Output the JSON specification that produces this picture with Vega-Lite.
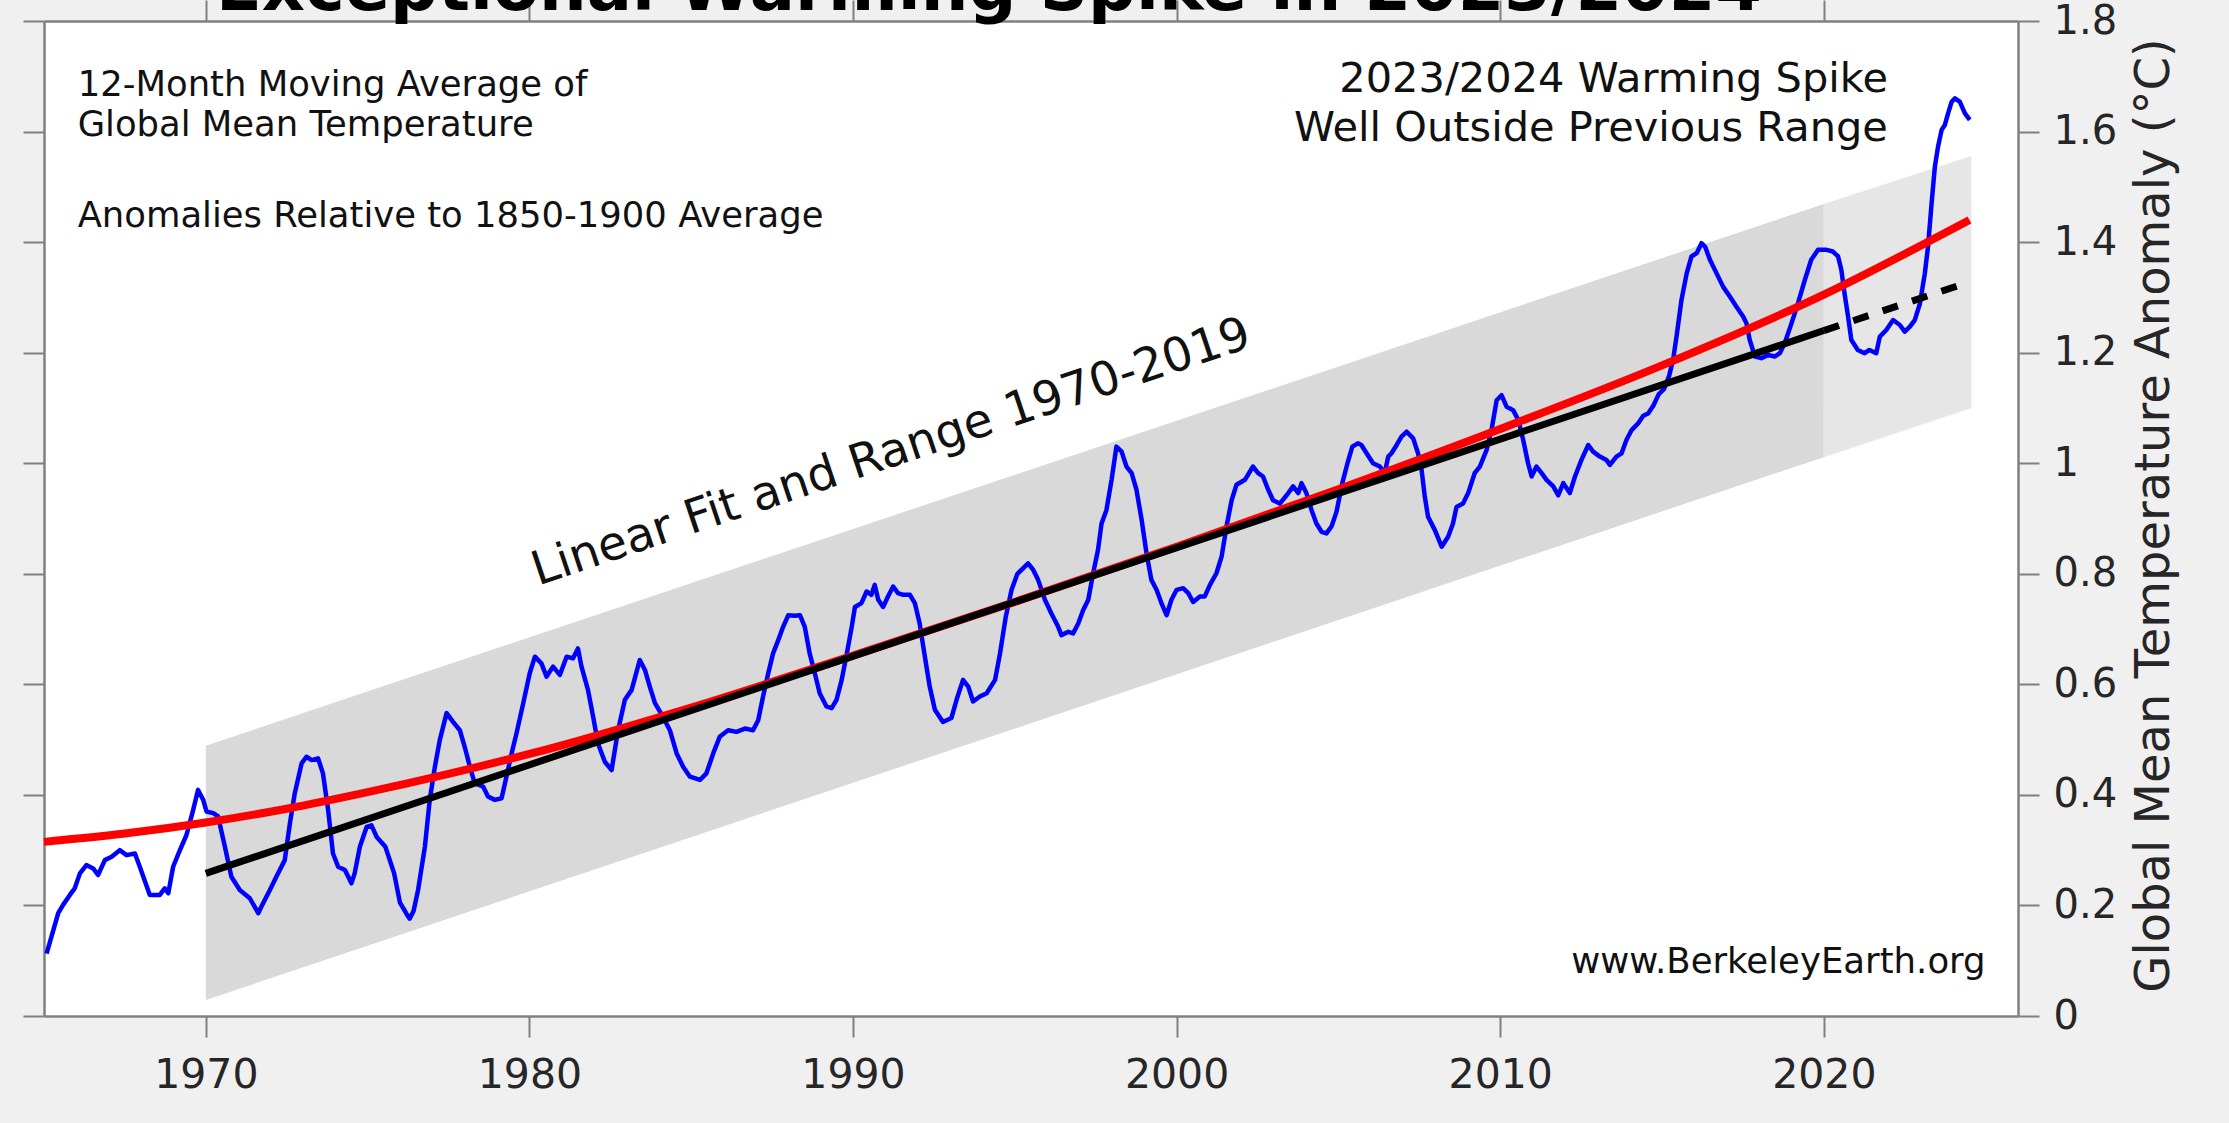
{
  "$schema": "https://vega.github.io/schema/vega-lite/v6.json",
  "autosize": {"type": "none"},
  "padding": {"left": 44, "top": 21, "right": 211, "bottom": 107},
  "width": 1974,
  "height": 995,
  "background": "#f0f0f0",
  "config": {
    "view": {"fill": "#ffffff", "stroke": null},
    "font": "DejaVu Sans",
    "axis": {
      "grid": false,
      "domainColor": "#808080",
      "domainWidth": 2.5,
      "tickColor": "#808080",
      "tickWidth": 2,
      "labelColor": "#262626",
      "titleColor": "#262626",
      "labelFont": "DejaVu Sans",
      "titleFont": "DejaVu Sans"
    },
    "text": {"font": "DejaVu Sans", "color": "#111111"}
  },
  "datasets": {
    "band": [
      {"yr": 1970, "lo": 0.029, "hi": 0.489, "span": "1970-2019"},
      {"yr": 2020, "lo": 1.011, "hi": 1.469, "span": "1970-2019"},
      {"yr": 2020, "lo": 1.011, "hi": 1.469, "span": "2020-2024"},
      {"yr": 2024.56, "lo": 1.1, "hi": 1.556, "span": "2020-2024"}
    ],
    "gmt": [
      {"yr": 1965.08, "v": 0.113}, {"yr": 1965.44, "v": 0.186}, {"yr": 1965.59, "v": 0.201}, {"yr": 1965.8, "v": 0.219},
      {"yr": 1965.95, "v": 0.231}, {"yr": 1966.11, "v": 0.258}, {"yr": 1966.31, "v": 0.273}, {"yr": 1966.52, "v": 0.267},
      {"yr": 1966.67, "v": 0.255}, {"yr": 1966.88, "v": 0.282}, {"yr": 1967.09, "v": 0.288}, {"yr": 1967.34, "v": 0.3},
      {"yr": 1967.55, "v": 0.291}, {"yr": 1967.81, "v": 0.294}, {"yr": 1967.96, "v": 0.27}, {"yr": 1968.27, "v": 0.219},
      {"yr": 1968.58, "v": 0.219}, {"yr": 1968.73, "v": 0.231}, {"yr": 1968.84, "v": 0.222}, {"yr": 1968.99, "v": 0.27},
      {"yr": 1969.2, "v": 0.3}, {"yr": 1969.4, "v": 0.327}, {"yr": 1969.61, "v": 0.373}, {"yr": 1969.76, "v": 0.409},
      {"yr": 1969.92, "v": 0.391}, {"yr": 1970.02, "v": 0.37}, {"yr": 1970.23, "v": 0.367}, {"yr": 1970.38, "v": 0.361},
      {"yr": 1970.59, "v": 0.306}, {"yr": 1970.79, "v": 0.252}, {"yr": 1971.05, "v": 0.228}, {"yr": 1971.36, "v": 0.213},
      {"yr": 1971.62, "v": 0.186}, {"yr": 1971.72, "v": 0.198}, {"yr": 1971.98, "v": 0.228}, {"yr": 1972.18, "v": 0.252},
      {"yr": 1972.44, "v": 0.282}, {"yr": 1972.6, "v": 0.349}, {"yr": 1972.75, "v": 0.403}, {"yr": 1972.96, "v": 0.457},
      {"yr": 1973.11, "v": 0.469}, {"yr": 1973.27, "v": 0.463}, {"yr": 1973.47, "v": 0.466}, {"yr": 1973.62, "v": 0.439},
      {"yr": 1973.78, "v": 0.373}, {"yr": 1973.93, "v": 0.294}, {"yr": 1974.09, "v": 0.27}, {"yr": 1974.3, "v": 0.264},
      {"yr": 1974.5, "v": 0.24}, {"yr": 1974.6, "v": 0.258}, {"yr": 1974.76, "v": 0.306}, {"yr": 1974.97, "v": 0.342},
      {"yr": 1975.12, "v": 0.345}, {"yr": 1975.28, "v": 0.324}, {"yr": 1975.55, "v": 0.306}, {"yr": 1975.82, "v": 0.258},
      {"yr": 1976.0, "v": 0.205}, {"yr": 1976.2, "v": 0.185}, {"yr": 1976.3, "v": 0.176}, {"yr": 1976.42, "v": 0.19},
      {"yr": 1976.56, "v": 0.228}, {"yr": 1976.77, "v": 0.306}, {"yr": 1976.92, "v": 0.391}, {"yr": 1977.08, "v": 0.451},
      {"yr": 1977.23, "v": 0.499}, {"yr": 1977.44, "v": 0.548}, {"yr": 1977.64, "v": 0.532}, {"yr": 1977.85, "v": 0.517},
      {"yr": 1978.0, "v": 0.487}, {"yr": 1978.16, "v": 0.451}, {"yr": 1978.31, "v": 0.421}, {"yr": 1978.57, "v": 0.415},
      {"yr": 1978.72, "v": 0.397}, {"yr": 1978.93, "v": 0.391}, {"yr": 1979.14, "v": 0.394}, {"yr": 1979.29, "v": 0.433},
      {"yr": 1979.45, "v": 0.475}, {"yr": 1979.6, "v": 0.511}, {"yr": 1979.81, "v": 0.566}, {"yr": 1980.01, "v": 0.62},
      {"yr": 1980.17, "v": 0.65}, {"yr": 1980.37, "v": 0.638}, {"yr": 1980.53, "v": 0.614}, {"yr": 1980.73, "v": 0.632},
      {"yr": 1980.94, "v": 0.617}, {"yr": 1981.15, "v": 0.65}, {"yr": 1981.35, "v": 0.647}, {"yr": 1981.5, "v": 0.665},
      {"yr": 1981.61, "v": 0.632}, {"yr": 1981.81, "v": 0.59}, {"yr": 1981.97, "v": 0.541}, {"yr": 1982.12, "v": 0.493},
      {"yr": 1982.33, "v": 0.46}, {"yr": 1982.54, "v": 0.445}, {"yr": 1982.74, "v": 0.517}, {"yr": 1982.95, "v": 0.572},
      {"yr": 1983.16, "v": 0.59}, {"yr": 1983.41, "v": 0.644}, {"yr": 1983.57, "v": 0.626}, {"yr": 1983.72, "v": 0.596},
      {"yr": 1983.88, "v": 0.566}, {"yr": 1984.13, "v": 0.541}, {"yr": 1984.34, "v": 0.517}, {"yr": 1984.55, "v": 0.475},
      {"yr": 1984.75, "v": 0.451}, {"yr": 1984.96, "v": 0.433}, {"yr": 1985.27, "v": 0.427}, {"yr": 1985.47, "v": 0.439},
      {"yr": 1985.68, "v": 0.475}, {"yr": 1985.88, "v": 0.505}, {"yr": 1986.14, "v": 0.517}, {"yr": 1986.4, "v": 0.514},
      {"yr": 1986.66, "v": 0.52}, {"yr": 1986.91, "v": 0.517}, {"yr": 1987.07, "v": 0.535}, {"yr": 1987.22, "v": 0.578},
      {"yr": 1987.38, "v": 0.62}, {"yr": 1987.53, "v": 0.656}, {"yr": 1987.69, "v": 0.68}, {"yr": 1987.84, "v": 0.704},
      {"yr": 1988.0, "v": 0.725}, {"yr": 1988.2, "v": 0.724}, {"yr": 1988.36, "v": 0.725}, {"yr": 1988.51, "v": 0.704},
      {"yr": 1988.66, "v": 0.656}, {"yr": 1988.82, "v": 0.62}, {"yr": 1988.97, "v": 0.584}, {"yr": 1989.18, "v": 0.56},
      {"yr": 1989.34, "v": 0.557}, {"yr": 1989.49, "v": 0.572}, {"yr": 1989.65, "v": 0.608}, {"yr": 1989.81, "v": 0.656},
      {"yr": 1989.96, "v": 0.704}, {"yr": 1990.06, "v": 0.74}, {"yr": 1990.26, "v": 0.747}, {"yr": 1990.42, "v": 0.768},
      {"yr": 1990.57, "v": 0.762}, {"yr": 1990.67, "v": 0.78}, {"yr": 1990.78, "v": 0.753}, {"yr": 1990.93, "v": 0.74},
      {"yr": 1991.08, "v": 0.759}, {"yr": 1991.24, "v": 0.777}, {"yr": 1991.39, "v": 0.765}, {"yr": 1991.55, "v": 0.762},
      {"yr": 1991.76, "v": 0.762}, {"yr": 1991.91, "v": 0.747}, {"yr": 1992.06, "v": 0.71}, {"yr": 1992.22, "v": 0.65},
      {"yr": 1992.37, "v": 0.596}, {"yr": 1992.53, "v": 0.554}, {"yr": 1992.78, "v": 0.532}, {"yr": 1993.04, "v": 0.539},
      {"yr": 1993.2, "v": 0.572}, {"yr": 1993.4, "v": 0.608}, {"yr": 1993.56, "v": 0.596}, {"yr": 1993.71, "v": 0.569},
      {"yr": 1993.92, "v": 0.578}, {"yr": 1994.13, "v": 0.584}, {"yr": 1994.39, "v": 0.608}, {"yr": 1994.54, "v": 0.655},
      {"yr": 1994.72, "v": 0.722}, {"yr": 1994.9, "v": 0.771}, {"yr": 1995.08, "v": 0.8}, {"yr": 1995.41, "v": 0.819},
      {"yr": 1995.57, "v": 0.807}, {"yr": 1995.72, "v": 0.789}, {"yr": 1995.93, "v": 0.753}, {"yr": 1996.13, "v": 0.728},
      {"yr": 1996.34, "v": 0.704}, {"yr": 1996.44, "v": 0.689}, {"yr": 1996.65, "v": 0.695}, {"yr": 1996.8, "v": 0.692},
      {"yr": 1996.96, "v": 0.71}, {"yr": 1997.11, "v": 0.734}, {"yr": 1997.27, "v": 0.753}, {"yr": 1997.42, "v": 0.801},
      {"yr": 1997.57, "v": 0.843}, {"yr": 1997.68, "v": 0.891}, {"yr": 1997.83, "v": 0.915}, {"yr": 1997.99, "v": 0.97},
      {"yr": 1998.14, "v": 1.03}, {"yr": 1998.3, "v": 1.021}, {"yr": 1998.45, "v": 0.994}, {"yr": 1998.61, "v": 0.982},
      {"yr": 1998.76, "v": 0.952}, {"yr": 1998.92, "v": 0.897}, {"yr": 1999.07, "v": 0.837}, {"yr": 1999.22, "v": 0.789},
      {"yr": 1999.38, "v": 0.771}, {"yr": 1999.53, "v": 0.747}, {"yr": 1999.69, "v": 0.725}, {"yr": 1999.84, "v": 0.753},
      {"yr": 2000.0, "v": 0.771}, {"yr": 2000.2, "v": 0.774}, {"yr": 2000.36, "v": 0.765}, {"yr": 2000.51, "v": 0.749},
      {"yr": 2000.72, "v": 0.759}, {"yr": 2000.87, "v": 0.759}, {"yr": 2001.03, "v": 0.78}, {"yr": 2001.23, "v": 0.801},
      {"yr": 2001.39, "v": 0.831}, {"yr": 2001.54, "v": 0.885}, {"yr": 2001.7, "v": 0.933}, {"yr": 2001.85, "v": 0.961},
      {"yr": 2002.11, "v": 0.97}, {"yr": 2002.36, "v": 0.994}, {"yr": 2002.52, "v": 0.982}, {"yr": 2002.67, "v": 0.976},
      {"yr": 2002.83, "v": 0.952}, {"yr": 2002.98, "v": 0.933}, {"yr": 2003.19, "v": 0.927}, {"yr": 2003.4, "v": 0.942},
      {"yr": 2003.6, "v": 0.958}, {"yr": 2003.76, "v": 0.946}, {"yr": 2003.86, "v": 0.964}, {"yr": 2004.01, "v": 0.946},
      {"yr": 2004.17, "v": 0.915}, {"yr": 2004.32, "v": 0.891}, {"yr": 2004.48, "v": 0.876}, {"yr": 2004.63, "v": 0.873},
      {"yr": 2004.79, "v": 0.886}, {"yr": 2004.94, "v": 0.912}, {"yr": 2005.12, "v": 0.964}, {"yr": 2005.28, "v": 1.0},
      {"yr": 2005.43, "v": 1.03}, {"yr": 2005.6, "v": 1.036}, {"yr": 2005.71, "v": 1.033}, {"yr": 2005.87, "v": 1.018},
      {"yr": 2006.07, "v": 1.0}, {"yr": 2006.28, "v": 0.994}, {"yr": 2006.43, "v": 0.982}, {"yr": 2006.54, "v": 1.012},
      {"yr": 2006.64, "v": 1.018}, {"yr": 2006.8, "v": 1.033}, {"yr": 2006.95, "v": 1.048}, {"yr": 2007.11, "v": 1.057},
      {"yr": 2007.31, "v": 1.045}, {"yr": 2007.46, "v": 1.018}, {"yr": 2007.57, "v": 0.988}, {"yr": 2007.67, "v": 0.939},
      {"yr": 2007.77, "v": 0.903}, {"yr": 2007.98, "v": 0.879}, {"yr": 2008.19, "v": 0.849}, {"yr": 2008.39, "v": 0.867},
      {"yr": 2008.54, "v": 0.891}, {"yr": 2008.65, "v": 0.921}, {"yr": 2008.85, "v": 0.927}, {"yr": 2009.01, "v": 0.946},
      {"yr": 2009.21, "v": 0.982}, {"yr": 2009.37, "v": 0.994}, {"yr": 2009.58, "v": 1.024}, {"yr": 2009.73, "v": 1.06},
      {"yr": 2009.89, "v": 1.114}, {"yr": 2010.04, "v": 1.123}, {"yr": 2010.2, "v": 1.102}, {"yr": 2010.4, "v": 1.096},
      {"yr": 2010.56, "v": 1.078}, {"yr": 2010.71, "v": 1.042}, {"yr": 2010.86, "v": 1.0}, {"yr": 2010.97, "v": 0.976},
      {"yr": 2011.12, "v": 0.994}, {"yr": 2011.28, "v": 0.982}, {"yr": 2011.43, "v": 0.97}, {"yr": 2011.64, "v": 0.958},
      {"yr": 2011.79, "v": 0.942}, {"yr": 2011.95, "v": 0.964}, {"yr": 2012.15, "v": 0.946}, {"yr": 2012.31, "v": 0.976},
      {"yr": 2012.51, "v": 1.006}, {"yr": 2012.72, "v": 1.033}, {"yr": 2012.87, "v": 1.021}, {"yr": 2013.08, "v": 1.012},
      {"yr": 2013.28, "v": 1.006}, {"yr": 2013.39, "v": 0.997}, {"yr": 2013.59, "v": 1.012}, {"yr": 2013.75, "v": 1.018},
      {"yr": 2013.9, "v": 1.042}, {"yr": 2014.06, "v": 1.06}, {"yr": 2014.26, "v": 1.072}, {"yr": 2014.42, "v": 1.086},
      {"yr": 2014.57, "v": 1.09}, {"yr": 2014.73, "v": 1.104}, {"yr": 2014.9, "v": 1.125}, {"yr": 2015.06, "v": 1.134},
      {"yr": 2015.22, "v": 1.158}, {"yr": 2015.35, "v": 1.19}, {"yr": 2015.45, "v": 1.23}, {"yr": 2015.6, "v": 1.295},
      {"yr": 2015.76, "v": 1.343}, {"yr": 2015.91, "v": 1.374}, {"yr": 2016.07, "v": 1.38}, {"yr": 2016.22, "v": 1.398},
      {"yr": 2016.33, "v": 1.392}, {"yr": 2016.48, "v": 1.368}, {"yr": 2016.69, "v": 1.343}, {"yr": 2016.89, "v": 1.319},
      {"yr": 2017.1, "v": 1.301}, {"yr": 2017.3, "v": 1.283}, {"yr": 2017.51, "v": 1.265}, {"yr": 2017.61, "v": 1.253},
      {"yr": 2017.71, "v": 1.223}, {"yr": 2017.87, "v": 1.193}, {"yr": 2018.07, "v": 1.19}, {"yr": 2018.28, "v": 1.196},
      {"yr": 2018.48, "v": 1.193}, {"yr": 2018.64, "v": 1.199}, {"yr": 2018.79, "v": 1.217}, {"yr": 2019.0, "v": 1.253},
      {"yr": 2019.2, "v": 1.289}, {"yr": 2019.41, "v": 1.331}, {"yr": 2019.61, "v": 1.368}, {"yr": 2019.82, "v": 1.386},
      {"yr": 2020.08, "v": 1.386}, {"yr": 2020.28, "v": 1.383}, {"yr": 2020.44, "v": 1.374}, {"yr": 2020.54, "v": 1.35},
      {"yr": 2020.64, "v": 1.307}, {"yr": 2020.75, "v": 1.265}, {"yr": 2020.85, "v": 1.223}, {"yr": 2021.05, "v": 1.205},
      {"yr": 2021.26, "v": 1.199}, {"yr": 2021.41, "v": 1.205}, {"yr": 2021.62, "v": 1.199}, {"yr": 2021.73, "v": 1.229},
      {"yr": 2021.93, "v": 1.241}, {"yr": 2022.14, "v": 1.259}, {"yr": 2022.35, "v": 1.25}, {"yr": 2022.5, "v": 1.238},
      {"yr": 2022.66, "v": 1.247}, {"yr": 2022.81, "v": 1.259}, {"yr": 2022.97, "v": 1.289}, {"yr": 2023.12, "v": 1.343},
      {"yr": 2023.22, "v": 1.392}, {"yr": 2023.33, "v": 1.47}, {"yr": 2023.43, "v": 1.536}, {"yr": 2023.53, "v": 1.573},
      {"yr": 2023.64, "v": 1.603}, {"yr": 2023.74, "v": 1.612}, {"yr": 2023.84, "v": 1.633}, {"yr": 2023.95, "v": 1.654},
      {"yr": 2024.05, "v": 1.66}, {"yr": 2024.2, "v": 1.654}, {"yr": 2024.36, "v": 1.633}, {"yr": 2024.51, "v": 1.621}
    ],
    "curve": [
      {"yr": 1965, "v": 0.315}, {"yr": 1967.5, "v": 0.33}, {"yr": 1970, "v": 0.35}, {"yr": 1972.5, "v": 0.375},
      {"yr": 1975, "v": 0.405}, {"yr": 1977.5, "v": 0.438}, {"yr": 1980, "v": 0.474}, {"yr": 1985, "v": 0.558},
      {"yr": 1990, "v": 0.652}, {"yr": 1995, "v": 0.749}, {"yr": 2000, "v": 0.849}, {"yr": 2005, "v": 0.953},
      {"yr": 2010, "v": 1.062}, {"yr": 2015, "v": 1.177}, {"yr": 2020, "v": 1.305}, {"yr": 2024.5, "v": 1.44}
    ],
    "trend": [
      {"yr": 1970, "v": 0.258, "part": "fit"},
      {"yr": 2020, "v": 1.24, "part": "fit"},
      {"yr": 2020, "v": 1.24, "part": "extension"},
      {"yr": 2024.5, "v": 1.328, "part": "extension"}
    ],
    "notes": [
      {"group": "about", "label": "12-Month Moving Average of", "yr": 1966.04, "v": 1.684},
      {"group": "about", "label": "Global Mean Temperature", "yr": 1966.04, "v": 1.612},
      {"group": "about", "label": "Anomalies Relative to 1850-1900 Average", "yr": 1966.04, "v": 1.447},
      {"group": "spike", "label": "2023/2024 Warming Spike", "yr": 2021.98, "v": 1.694},
      {"group": "spike", "label": "Well Outside Previous Range", "yr": 2021.98, "v": 1.604},
      {"group": "credit", "label": "www.BerkeleyEarth.org", "yr": 2025.0, "v": 0.097},
      {"group": "fit", "label": "Linear Fit and Range 1970-2019", "yr": 1991.18, "v": 1.019},
      {"group": "headline", "label": "Exceptional Warming Spike in 2023/2024", "yr": 1994.2, "v": 1.8195}
    ]
  },
  "resolve": {"axis": {"x": "independent", "y": "independent"}},
  "layer": [
    {
      "data": {"name": "band"},
      "mark": {"type": "area", "opacity": 1},
      "encoding": {
        "x": {
          "field": "yr", "type": "quantitative",
          "scale": {"domain": [1965, 2026], "nice": false, "zero": false},
          "axis": {
            "orient": "bottom", "title": null,
            "values": [1970, 1980, 1990, 2000, 2010, 2020], "format": "d",
            "tickSize": 21, "labelPadding": 18, "labelFontSize": 41
          }
        },
        "y": {
          "field": "lo", "type": "quantitative",
          "scale": {"domain": [0, 1.8], "nice": false, "zero": false},
          "axis": {
            "orient": "right",
            "values": [0, 0.2, 0.4, 0.6, 0.8, 1, 1.2, 1.4, 1.6, 1.8], "format": "~g",
            "tickSize": 21, "labelPadding": 14, "labelFontSize": 40,
            "title": "Global Mean Temperature Anomaly (°C)",
            "titleFontSize": 48, "titleFontWeight": "normal",
            "titleAngle": 270, "titleX": 136, "titleY": 494,
            "titleAlign": "center", "titleBaseline": "middle"
          }
        },
        "y2": {"field": "hi"},
        "color": {
          "field": "span", "type": "nominal", "legend": null,
          "scale": {"domain": ["1970-2019", "2020-2024"], "range": ["#d9d9d9", "#e6e6e6"]}
        }
      }
    },
    {
      "data": {"name": "gmt"},
      "mark": {"type": "line", "color": "#0000ff", "strokeWidth": 4.5, "strokeJoin": "round"},
      "encoding": {
        "x": {
          "field": "yr", "type": "quantitative",
          "scale": {"domain": [1965, 2026], "nice": false, "zero": false},
          "axis": {"orient": "top", "title": null, "labels": false, "values": [1970, 1980, 1990, 2000, 2010, 2020], "tickSize": 21}
        },
        "y": {
          "field": "v", "type": "quantitative",
          "scale": {"domain": [0, 1.8], "nice": false, "zero": false},
          "axis": {"orient": "left", "title": null, "labels": false, "values": [0, 0.2, 0.4, 0.6, 0.8, 1, 1.2, 1.4, 1.6, 1.8], "tickSize": 21}
        }
      }
    },
    {
      "data": {"name": "curve"},
      "mark": {"type": "line", "color": "#ff0000", "strokeWidth": 8, "interpolate": "monotone"},
      "encoding": {
        "x": {"field": "yr", "type": "quantitative", "axis": null},
        "y": {"field": "v", "type": "quantitative", "axis": null}
      }
    },
    {
      "data": {"name": "trend"},
      "transform": [{"filter": "datum.part === 'fit'"}],
      "mark": {"type": "line", "color": "#000000", "strokeWidth": 7},
      "encoding": {
        "x": {"field": "yr", "type": "quantitative", "axis": null},
        "y": {"field": "v", "type": "quantitative", "axis": null}
      }
    },
    {
      "data": {"name": "trend"},
      "transform": [{"filter": "datum.part === 'extension'"}],
      "mark": {"type": "line", "color": "#000000", "strokeWidth": 7, "strokeDash": [16, 15]},
      "encoding": {
        "x": {"field": "yr", "type": "quantitative", "axis": null},
        "y": {"field": "v", "type": "quantitative", "axis": null}
      }
    },
    {
      "data": {"name": "notes"},
      "transform": [{"filter": "datum.group === 'about'"}],
      "mark": {"type": "text", "align": "left", "baseline": "middle", "fontSize": 35.4},
      "encoding": {
        "x": {"field": "yr", "type": "quantitative", "axis": null},
        "y": {"field": "v", "type": "quantitative", "axis": null},
        "text": {"field": "label"}
      }
    },
    {
      "data": {"name": "notes"},
      "transform": [{"filter": "datum.group === 'spike'"}],
      "mark": {"type": "text", "align": "right", "baseline": "middle", "fontSize": 41.5},
      "encoding": {
        "x": {"field": "yr", "type": "quantitative", "axis": null},
        "y": {"field": "v", "type": "quantitative", "axis": null},
        "text": {"field": "label"}
      }
    },
    {
      "data": {"name": "notes"},
      "transform": [{"filter": "datum.group === 'credit'"}],
      "mark": {"type": "text", "align": "right", "baseline": "middle", "fontSize": 35.5},
      "encoding": {
        "x": {"field": "yr", "type": "quantitative", "axis": null},
        "y": {"field": "v", "type": "quantitative", "axis": null},
        "text": {"field": "label"}
      }
    },
    {
      "data": {"name": "notes"},
      "transform": [{"filter": "datum.group === 'fit'"}],
      "mark": {"type": "text", "align": "center", "baseline": "middle", "fontSize": 47, "angle": 341.5},
      "encoding": {
        "x": {"field": "yr", "type": "quantitative", "axis": null},
        "y": {"field": "v", "type": "quantitative", "axis": null},
        "text": {"field": "label"}
      }
    },
    {
      "data": {"name": "notes"},
      "transform": [{"filter": "datum.group === 'headline'"}],
      "mark": {"type": "text", "align": "center", "baseline": "alphabetic", "fontSize": 67, "fontWeight": "bold", "color": "#000000"},
      "encoding": {
        "x": {"field": "yr", "type": "quantitative", "axis": null},
        "y": {"field": "v", "type": "quantitative", "axis": null},
        "text": {"field": "label"}
      }
    }
  ]
}
